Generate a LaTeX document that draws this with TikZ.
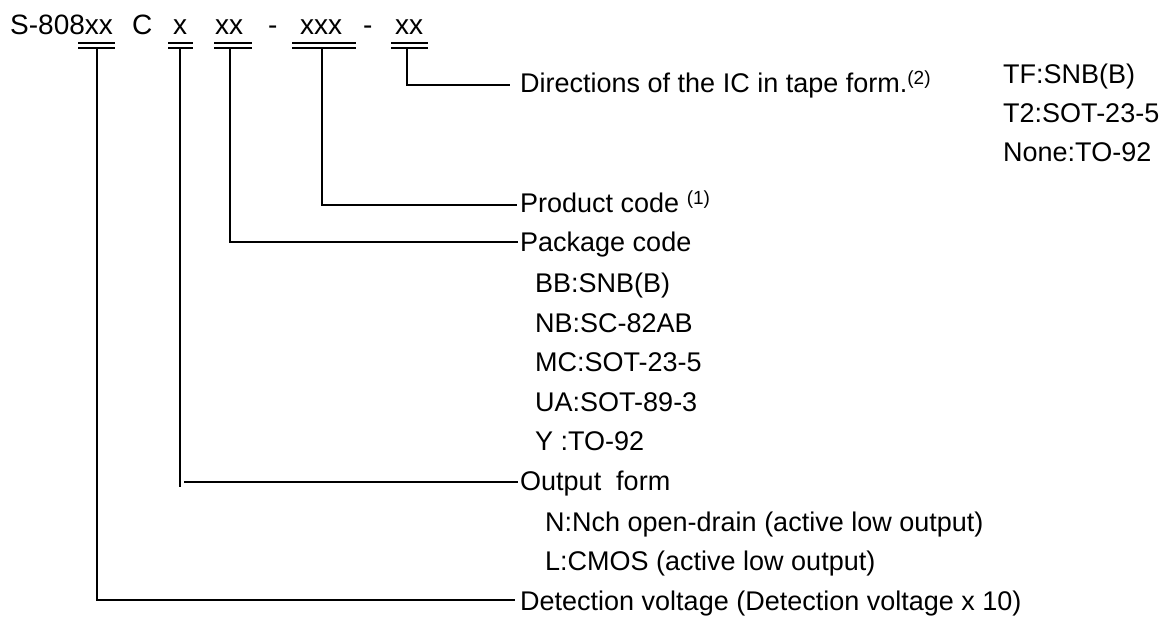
\documentclass[tikz,border=0pt]{standalone}
\usepackage{fontspec}
\setmainfont{Liberation Sans}
\newcommand{\sups}[1]{\raisebox{8pt}{\fontsize{19}{19}\selectfont #1}}
\begin{document}
\begin{tikzpicture}[x=1pt,y=-1pt,
  ttl/.style={anchor=base west, inner sep=0pt, font=\fontsize{28}{32}\selectfont},
  lbl/.style={anchor=base west, inner sep=0pt, font=\fontsize{27}{31}\selectfont},
  ln/.style={line width=1.4pt, line cap=butt}]
\useasboundingbox[fill=white] (0,0) rectangle (1168,617);
% title parts
\node[ttl] (t1) at (10,35) {S-808xx};
\node[ttl] (t2) at (132,35) {C};
\node[ttl] (t3) at (173,35) {x};
\node[ttl] (t4) at (215,35) {xx};
\node[ttl] (t5) at (268,35) {-};
\node[ttl] (t6) at (300,35) {xxx};
\node[ttl] (t7) at (363,35) {-};
\node[ttl] (t8) at (395,35) {xx};
% double underlines
\foreach \a/\b in {78/115,168/193,214/252,292/356,391/428}{
  \draw[ln] (\a,43) -- (\b,43);
  \draw[ln] (\a,48) -- (\b,48);
}
\coordinate (c1) at (97,48);
\coordinate (c2) at (180,48);
\coordinate (c3) at (230,48);
\coordinate (c4) at (322,48);
\coordinate (c5) at (407,48);
% labels
\node[lbl] (dir) at (520,93) {Directions of the IC in tape form.\sups{(2)}};
\node[lbl] (tf) at (1003,84) {TF:SNB(B)};
\node[lbl] (tt) at (1003,123) {T2:SOT-23-5};
\node[lbl] (none) at (1003,162) {None:TO-92};
\node[lbl] (prod) at (520,213) {Product code \sups{(1)}};
\node[lbl] (pkg) at (520,252) {Package code};
\node[lbl] (bb) at (535,293) {BB:SNB(B)};
\node[lbl] (nb) at (535,333) {NB:SC-82AB};
\node[lbl] (mc) at (535,372) {MC:SOT-23-5};
\node[lbl] (ua) at (535,412) {UA:SOT-89-3};
\node[lbl] (yy) at (535,451) {Y :TO-92};
\node[lbl] (out) at (520,491) {Output\ \ form};
\node[lbl] (nch) at (545,531) {N:Nch open-drain (active low output)};
\node[lbl] (cmos) at (545,570) {L:CMOS (active low output)};
\node[lbl] (det) at (520,610) {Detection voltage (Detection voltage x 10)};
% connectors
\draw[ln] (c5) |- ([xshift=-10pt,yshift=8pt]dir.base west);
\draw[ln] (c4) |- ([xshift=-3pt,yshift=8pt]prod.base west);
\draw[ln] (c3) |- ([xshift=-2pt,yshift=10pt]pkg.base west);
\coordinate (o1) at (180,487);
\coordinate (o2) at (184,482);
\draw[ln] (c2) -- (o1);
\draw[ln] (o2) -- ([xshift=-2pt,yshift=9pt]out.base west);
\draw[ln] (c1) |- ([xshift=-5pt,yshift=10pt]det.base west);
\end{tikzpicture}
\end{document}
